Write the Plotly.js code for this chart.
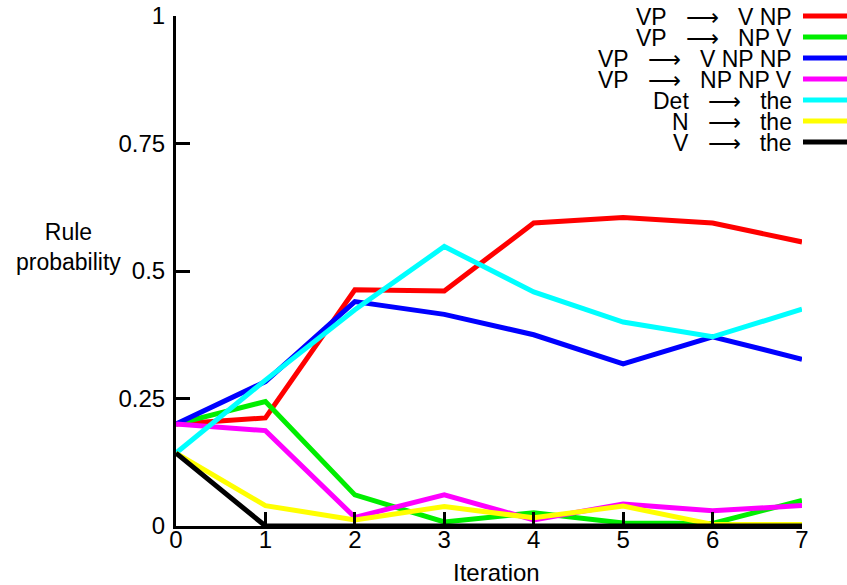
<!DOCTYPE html>
<html>
<head>
<meta charset="utf-8">
<script src="https://cdn.plot.ly/plotly-3.0.1.min.js"></script>
<style>html,body{margin:0;padding:0;background:#fff;}#chart{width:847px;height:585px;}</style>
</head>
<body>
<div id="chart"></div>
<script>
const iterations = [0, 1, 2, 3, 4, 5, 6, 7];
const ruleLhs = ["VP", "VP", "VP", "VP", "Det", "N", "V"];
const ruleRhs = ["V NP", "NP V", "V NP NP", "NP NP V", "the", "the", "the"];
const seriesColors = ["#ff0000", "#00ee00", "#0000ff", "#ff00ff", "#00ffff", "#ffff00", "#000000"];
const vpVNP   = [0.200, 0.212, 0.463, 0.461, 0.594, 0.605, 0.594, 0.557];
const vpNPV   = [0.200, 0.244, 0.061, 0.008, 0.026, 0.006, 0.005, 0.050];
const vpVNPNP = [0.200, 0.283, 0.440, 0.415, 0.375, 0.318, 0.371, 0.327];
const vpNPNPV = [0.200, 0.187, 0.017, 0.061, 0.012, 0.043, 0.030, 0.040];
const detThe  = [0.143, 0.286, 0.424, 0.548, 0.459, 0.400, 0.371, 0.425];
const nThe    = [0.143, 0.040, 0.012, 0.038, 0.016, 0.039, 0.003, 0.003];
const vThe    = [0.143, 0.000, 0.000, 0.000, 0.000, 0.000, 0.000, 0.000];
const yTickVals = [0, 0.25, 0.5, 0.75, 1];
const yTickText = ["0", "0.25", "0.5", "0.75", "1"];
const xTickVals = [0, 1, 2, 3, 4, 5, 6, 7];

const allSeries = [vpVNP, vpNPV, vpVNPNP, vpNPNPV, detThe, nThe, vThe];
const FONT = "Liberation Sans, Arial, sans-serif";
const SP = "\u00a0\u00a0\u00a0";
const seriesNames = ruleLhs.map((l, i) => l + " → " + ruleRhs[i]);
const legendTexts = ruleLhs.map((l, i) => l + SP + "⟶" + SP + ruleRhs[i]);

const traces = allSeries.map((ys, i) => ({
  x: iterations, y: ys, type: "scatter", mode: "lines",
  name: seriesNames[i], line: {color: seriesColors[i], width: 5},
  showlegend: false, cliponaxis: false
}));

const L = 176, R = 802, T = 16, B = 526;
const pw = R - L, ph = B - T;
const px2x = p => (p - L) / pw;
const py2y = p => (B - p) / ph;

const rowY = [16, 37, 58, 79, 100, 121, 142];
const annotations = legendTexts.map((n, i) => ({
  xref: "paper", yref: "paper", x: px2x(794), y: py2y(rowY[i] + 1),
  xanchor: "right", yanchor: "middle", text: n, showarrow: false,
  font: {family: FONT, size: 23, color: "#000"}
}));
annotations.push({
  xref: "paper", yref: "paper", x: px2x(68), y: py2y(247),
  xanchor: "center", yanchor: "middle", text: "Rule<br>probability", showarrow: false,
  font: {family: FONT, size: 23, color: "#000"}
});
annotations.push({
  xref: "paper", yref: "paper", x: px2x(496), y: py2y(572),
  xanchor: "center", yanchor: "middle", text: "Iteration", showarrow: false,
  font: {family: FONT, size: 24, color: "#000"}
});
const shapes = ruleLhs.map((n, i) => ({
  type: "line", xref: "paper", yref: "paper",
  x0: px2x(803), x1: px2x(847), y0: py2y(rowY[i]), y1: py2y(rowY[i]),
  line: {color: seriesColors[i], width: 5}
}));

const layout = {
  width: 847, height: 585,
  margin: {l: L, r: 847 - R, t: T, b: 585 - B},
  paper_bgcolor: "#fff", plot_bgcolor: "#fff",
  font: {family: FONT, size: 24, color: "#000"},
  showlegend: false,
  xaxis: {
    range: [0, 7], tickvals: xTickVals, ticks: "inside", ticklen: 14, tickwidth: 3,
    tickcolor: "#000", showline: true, linecolor: "#000", linewidth: 3,
    showgrid: false, zeroline: false, tickfont: {family: FONT, size: 24},
    ticklabelstandoff: -10
  },
  yaxis: {
    range: [0, 1], tickvals: yTickVals, ticktext: yTickText, ticks: "inside", ticklen: 14, tickwidth: 3,
    tickcolor: "#000", showline: true, linecolor: "#000", linewidth: 3,
    showgrid: false, zeroline: false, tickfont: {family: FONT, size: 24},
    ticklabelstandoff: 3
  },
  annotations: annotations,
  shapes: shapes
};
Plotly.newPlot("chart", traces, layout, {displayModeBar: false, staticPlot: true});
</script>
</body>
</html>
